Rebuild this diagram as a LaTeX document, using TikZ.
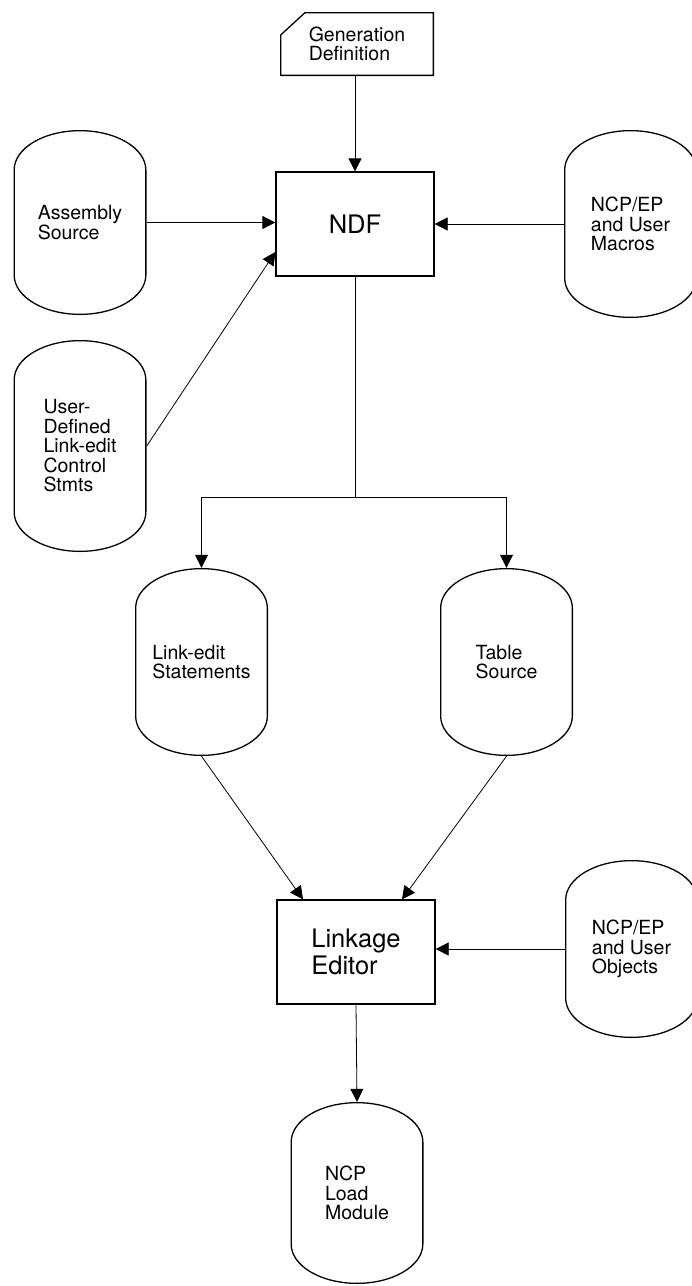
\documentclass[tikz,border=0pt]{standalone}
\usepackage{fontspec}
\setmainfont{TeX Gyre Heros}
\usetikzlibrary{arrows.meta}
\newcommand\disktxt{\fontsize{19.5}{19.5}\selectfont}
\newcommand\boxtxt{\fontsize{25.5}{27}\selectfont}
\hyphenpenalty=10000
\exhyphenpenalty=10000

\begin{document}
\begin{tikzpicture}[x=1pt, y=1pt,
  flow/.style={line width=0.8pt, -{Triangle[length=13pt,width=13pt]}},
  box/.style={draw, line width=1.3pt, minimum width=158pt, minimum height=104pt,
    align=left, font=\boxtxt},
  disk/.style={minimum width=133pt, minimum height=#1, inner sep=0pt, align=left, font=\disktxt,
    path picture={\draw[line width=1.3pt]
      ([shift={(0.65pt,-40pt)}]path picture bounding box.north west)
      arc[start angle=180, end angle=0, x radius=65.85pt, y radius=39.35pt]
      -- ([shift={(-0.65pt,40pt)}]path picture bounding box.south east)
      arc[start angle=0, end angle=-180, x radius=65.85pt, y radius=39.35pt]
      -- cycle;}},
  card/.style={minimum width=154pt, minimum height=64pt, inner sep=0pt, align=left, font=\disktxt,
    path picture={\draw[line width=1.3pt]
      ([shift={(25pt,-0.65pt)}]path picture bounding box.north west)
      -- ([shift={(-0.65pt,-0.65pt)}]path picture bounding box.north east)
      -- ([shift={(-0.65pt,0.65pt)}]path picture bounding box.south east)
      -- ([shift={(0.65pt,0.65pt)}]path picture bounding box.south west)
      -- ([shift={(0.65pt,-23pt)}]path picture bounding box.north west)
      -- cycle;}}]
\clip (0,0) rectangle (692,-1286);
\fill[white] (0,0) rectangle (692,-1286);

% generation step
\node[card] (gen) at (357,-44) {Generation\\Definition};
\node[box] (ndf) at (355,-224) {NDF};
\node[disk=185pt] (asm) at (80,-222.5) {Assembly\\Source};
\node[disk=212pt] (udef) at (80,-446) {User-\\Defined\\Link-edit\\Control\\Stmts};
\node[disk=188pt] (mac) at (630.5,-224) {NCP/EP\\and User\\Macros};

\draw[flow] (gen.south -| ndf.north) -- (ndf.north);
\draw[flow] (asm.east) -- (asm.east -| ndf.west);
\draw[flow] (udef.east) -- ([yshift=-28pt]ndf.west);
\draw[flow] (mac.west) -- (ndf.east);

% NDF output
\node[disk=188pt] (lnk) at (201.5,-662) {Link-edit\\Statements};
\node[disk=188pt] (tbl) at (506.5,-662) {Table\\Source};
\coordinate (split) at (355,-497);
\draw[line width=0.8pt] (ndf.south) -- (split);
\draw[flow] (split) -| (lnk.north);
\draw[flow] (split) -| (tbl.north);

% link-edit step
\node[box] (led) at (356,-952) {Linkage\\Editor};
\node[disk=178pt] (obj) at (631.5,-949) {NCP/EP\\and User\\Objects};
\node[disk=182pt] (lmod) at (357,-1193) {NCP\\Load\\Module};

\draw[flow] (lnk.south) -- ([xshift=-53pt]led.north);
\draw[flow] (tbl.south) -- ([xshift=46pt]led.north);
\draw[flow] (obj.west) -- (obj.west -| led.east);
\draw[flow] (led.south) -- (lmod.north);
\end{tikzpicture}
\end{document}
